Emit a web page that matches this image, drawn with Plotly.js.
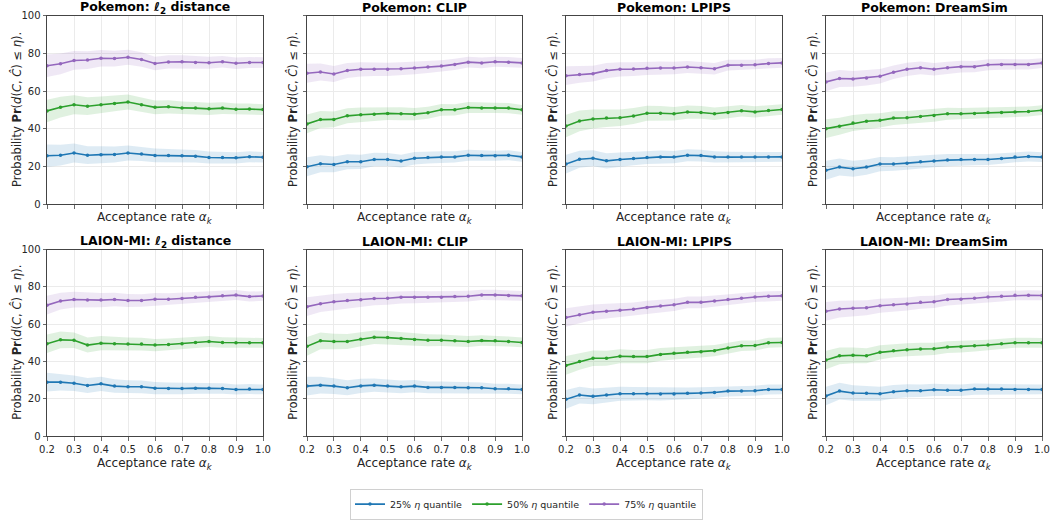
<!DOCTYPE html>
<html>
<head>
<meta charset="utf-8">
<script src="https://cdn.plot.ly/plotly-3.0.1.min.js"></script>
<style>html,body{margin:0;padding:0;background:#fff;}#chart{width:1053px;height:520px;}</style>
</head>
<body>
<div id="chart"></div>
<script>
// Acceptance rates (x axis)
const alphaK = [0.2,0.25,0.3,0.35,0.4,0.45,0.5,0.55,0.6,0.65,0.7,0.75,0.8,0.85,0.9,0.95,1.0];

const seriesNames = ['25% <i>η</i> quantile', '50% <i>η</i> quantile', '75% <i>η</i> quantile'];
const panelTitles = ['Pokemon: <i>ℓ</i><sub>2</sub> distance','Pokemon: CLIP','Pokemon: LPIPS','Pokemon: DreamSim',
                     'LAION-MI: <i>ℓ</i><sub>2</sub> distance','LAION-MI: CLIP','LAION-MI: LPIPS','LAION-MI: DreamSim'];
const yTicks = [0,20,40,60,80,100];
const xTicks = [0.2,0.3,0.4,0.5,0.6,0.7,0.8,0.9,1.0];

// Pokemon: l2
const pkL2_q25 = [25.7,26.0,27.2,26.0,26.3,26.4,27.2,26.7,25.9,25.8,25.7,25.5,24.8,24.8,24.6,25.2,24.9];
const pkL2_q50 = [49.5,51.5,52.8,52.0,52.8,53.5,54.2,52.8,51.4,51.7,51.1,51.0,50.6,51.0,50.4,50.5,50.2];
const pkL2_q75 = [73.5,74.5,76.3,76.5,77.5,77.3,78.0,76.8,74.7,75.5,75.6,75.2,75.1,75.6,74.8,75.2,75.2];
// Pokemon: CLIP
const pkClip_q25 = [19.9,21.5,21.1,22.5,22.5,23.7,23.7,22.9,24.4,24.8,25.0,25.1,26.0,25.8,25.7,26.0,25.1];
const pkClip_q50 = [42.6,44.9,45.0,46.9,47.5,47.8,48.2,48.0,47.8,48.5,50.1,50.1,51.3,51.1,51.1,51.0,50.1];
const pkClip_q75 = [69.5,70.2,69.1,71.0,71.6,71.6,71.6,71.9,72.3,72.8,73.3,74.2,75.4,75.0,75.6,75.4,75.0];
// Pokemon: LPIPS
const pkLpips_q25 = [21.3,23.9,24.4,23.0,23.7,24.3,24.8,25.1,25.0,26.0,25.8,25.1,25.0,25.0,25.0,25.1,25.1];
const pkLpips_q50 = [41.5,44.2,45.2,45.7,45.9,46.8,48.3,48.3,48.0,48.9,48.7,48.0,48.7,49.6,49.0,49.7,50.3];
const pkLpips_q75 = [68.2,68.9,69.3,70.9,71.6,71.7,72.1,72.3,72.3,72.8,72.4,71.9,73.8,73.8,74.0,74.7,75.0];
// Pokemon: DreamSim
const pkDream_q25 = [18.0,19.7,18.8,19.7,21.3,21.3,21.8,22.5,22.9,23.4,23.7,23.7,23.7,24.3,25.0,25.3,25.0];
const pkDream_q50 = [40.1,41.4,43.1,44.0,44.5,45.7,45.9,46.6,47.1,48.0,48.0,48.2,48.7,48.7,48.9,49.2,49.9];
const pkDream_q75 = [64.9,66.7,66.5,67.0,67.9,70.0,71.6,72.4,71.6,72.4,73.0,73.0,74.0,74.2,74.2,74.2,74.9];
// LAION-MI: l2
const lmL2_q25 = [28.9,28.9,28.3,27.1,28.0,26.8,26.4,26.4,25.7,25.5,25.5,25.7,25.7,25.5,25.0,25.2,25.0];
const lmL2_q50 = [49.5,51.6,51.4,48.8,49.8,49.5,49.3,49.3,48.8,49.1,49.5,50.2,50.7,50.2,50.0,50.0,50.0];
const lmL2_q75 = [70.2,72.4,73.2,72.9,72.9,73.2,72.7,72.7,73.4,73.4,73.8,74.5,74.6,75.2,75.6,74.8,75.1];
// LAION-MI: CLIP
const lmClip_q25 = [26.8,27.3,26.8,25.9,26.9,27.3,26.8,26.4,26.8,26.1,26.1,26.1,25.9,25.9,25.4,25.4,25.0];
const lmClip_q50 = [48.1,51.1,50.7,50.7,51.9,53.0,52.8,52.3,51.8,51.4,51.4,51.1,50.7,51.2,51.1,50.7,50.2];
const lmClip_q75 = [69.4,71.0,72.0,72.7,73.1,73.8,73.9,74.5,74.5,74.5,74.5,74.8,75.0,75.7,75.7,75.4,75.2];
// LAION-MI: LPIPS
const lmLpips_q25 = [19.7,22.0,21.3,22.0,22.7,22.7,22.7,22.5,22.5,22.9,23.1,23.4,24.1,24.1,24.3,25.0,25.0];
const lmLpips_q50 = [37.9,40.0,41.7,41.7,42.8,42.6,42.6,43.8,44.4,44.9,45.2,45.8,47.2,48.4,48.6,50.0,50.2];
const lmLpips_q75 = [63.6,65.0,66.4,66.9,67.4,68.0,69.0,69.7,70.4,71.7,71.7,72.4,73.2,73.9,74.6,75.0,75.2];
// LAION-MI: DreamSim
const lmDream_q25 = [21.5,24.1,23.1,22.9,22.7,23.8,24.3,24.3,24.8,24.6,24.6,25.2,25.2,25.2,25.0,25.0,25.0];
const lmDream_q50 = [40.8,43.0,43.3,43.1,44.9,45.8,46.3,46.7,46.8,47.7,47.9,48.4,48.8,49.5,50.0,50.0,50.0];
const lmDream_q75 = [66.9,68.1,68.5,68.8,69.9,70.4,70.8,71.7,72.0,73.2,73.4,73.9,74.6,75.0,75.5,75.5,75.4];

// Half-widths of the shaded bands
const bandWide   = [6.0,5.5,5.0,4.7,4.4,4.2,4.0,3.8,3.6,3.5,3.4,3.3,3.2,3.1,3.0,2.9,2.8];
const bandNarrow = [5.0,4.5,4.2,4.0,3.8,3.6,3.5,3.4,3.3,3.2,3.1,3.0,2.9,2.8,2.7,2.7,2.6];

const panels = [
  [pkL2_q25, pkL2_q50, pkL2_q75],
  [pkClip_q25, pkClip_q50, pkClip_q75],
  [pkLpips_q25, pkLpips_q50, pkLpips_q75],
  [pkDream_q25, pkDream_q50, pkDream_q75],
  [lmL2_q25, lmL2_q50, lmL2_q75],
  [lmClip_q25, lmClip_q50, lmClip_q75],
  [lmLpips_q25, lmLpips_q50, lmLpips_q75],
  [lmDream_q25, lmDream_q50, lmDream_q75]
];
const panelBands = [
  [bandWide, bandWide, bandWide],
  [bandNarrow, bandNarrow, bandNarrow],
  [bandNarrow, bandWide, bandNarrow],
  [bandNarrow, bandNarrow, bandNarrow],
  [bandNarrow, bandNarrow, bandNarrow],
  [bandNarrow, bandNarrow, bandNarrow],
  [bandNarrow, bandNarrow, bandNarrow],
  [bandNarrow, bandNarrow, bandNarrow]
];

const colors = ['#1f77b4','#2ca02c','#9467bd'];
const fills = ['rgba(31,119,180,0.15)','rgba(44,160,44,0.15)','rgba(148,103,189,0.15)'];

const W = 1053, H = 520;
const colPx = [[47,263],[307,522],[566,782],[826,1042]];
const rowPx = [[16,207],[253,442]];
const yTitleX = [17,293,553,813];
const font = 'DejaVu Sans, sans-serif';

const data = [];
const layout = {
  width: W, height: H,
  margin: {l:0,r:0,t:0,b:0},
  paper_bgcolor: '#fff', plot_bgcolor: '#fff',
  font: {family: font, color: '#262626', size: 10},
  showlegend: true,
  legend: {orientation:'h', x:0.5, xanchor:'center', y:(H-511)/H, yanchor:'middle',
           bordercolor:'#d0d0d0', borderwidth:1, font:{size:9.5, family:font}, itemwidth:30,
           tracegroupgap:0},
  annotations: []
};

panels.forEach((series, p) => {
  const r = Math.floor(p/4), c = p % 4;
  const ax = p+1;
  const xa = 'x'+(ax===1?'':ax), ya = 'y'+(ax===1?'':ax);
  series.forEach((vals, s) => {
    const hw = panelBands[p][s];
    const upper = vals.map((v,i)=>v+hw[i]);
    const lower = vals.map((v,i)=>v-hw[i]);
    data.push({
      x: alphaK.concat(alphaK.slice().reverse()),
      y: upper.concat(lower.slice().reverse()),
      xaxis: xa, yaxis: ya, type:'scatter', mode:'lines',
      fill:'toself', fillcolor: fills[s], line:{width:0, color:'rgba(0,0,0,0)'},
      hoverinfo:'skip', showlegend:false
    });
  });
  series.forEach((vals, s) => {
    data.push({
      x: alphaK, y: vals, xaxis: xa, yaxis: ya, type:'scatter', mode:'lines+markers',
      name: seriesNames[s], legendgroup: 's'+s, showlegend: p===0,
      line:{color: colors[s], width:1.6}, marker:{color: colors[s], size:3.5, symbol:'circle'}
    });
  });
  const axKey = ax===1?'':ax;
  layout['xaxis'+axKey] = {
    domain: [colPx[c][0]/W, colPx[c][1]/W], anchor: ya,
    range: [0.2,1.0], tickvals: xTicks, tickformat: '.1f', showticklabels: r===1,
    ticks:'outside', ticklen:3.5, tickcolor:'#444', tickwidth:0.8,
    showgrid:true, gridcolor:'#ebebeb', gridwidth:1, zeroline:false,
    showline:true, mirror:true, linecolor:'#444', linewidth:1,
    tickfont:{size:10, color:'#262626'}
  };
  layout['yaxis'+axKey] = {
    domain: [1-rowPx[r][1]/H, 1-rowPx[r][0]/H], anchor: xa,
    range: [0,100], tickvals: yTicks, showticklabels: c===0,
    ticks:'outside', ticklen:3.5, tickcolor:'#444', tickwidth:0.8,
    showgrid:true, gridcolor:'#ebebeb', gridwidth:1, zeroline:false,
    showline:true, mirror:true, linecolor:'#444', linewidth:1,
    tickfont:{size:10, color:'#262626'}
  };
  const cx = (colPx[c][0]+colPx[c][1])/2/W;
  layout.annotations.push({
    text: '<b>'+panelTitles[p]+'</b>', xref:'paper', yref:'paper',
    x: cx, y: 1-(rowPx[r][0]-8)/H, xanchor:'center', yanchor:'middle', showarrow:false,
    font:{size:12.5, family:font, color:'#000'}
  });
  layout.annotations.push({
    text: 'Acceptance rate <i>α</i><sub><i>k</i></sub>', xref:'paper', yref:'paper',
    x: cx, y: 1-(rowPx[r][1]+(r===1?28:14))/H, xanchor:'center', yanchor:'middle', showarrow:false,
    font:{size:12, family:font, color:'#262626'}
  });
  layout.annotations.push({
    text: 'Probability <b>Pr</b>(<i>d</i>(<i>C</i>, <i>Ĉ</i>) ≤ <i>η</i>).', xref:'paper', yref:'paper',
    x: yTitleX[c]/W, y: 1-((rowPx[r][0]+rowPx[r][1])/2)/H, xanchor:'center', yanchor:'middle',
    textangle:-90, showarrow:false, font:{size:11.5, family:font, color:'#262626'}
  });
});

Plotly.newPlot('chart', data, layout, {displayModeBar:false, staticPlot:true});
</script>
</body>
</html>
